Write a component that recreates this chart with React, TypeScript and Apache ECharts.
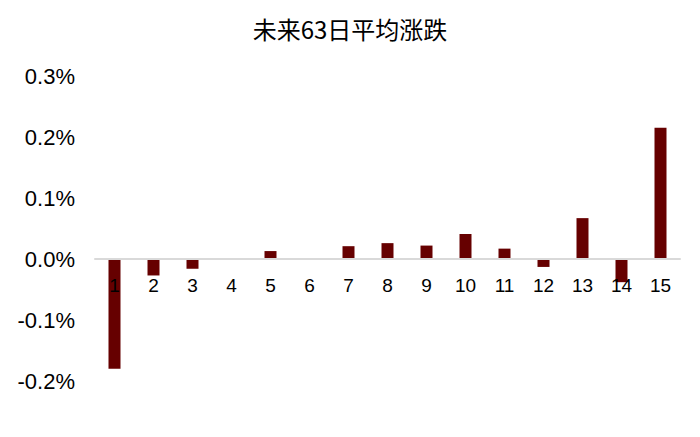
import { useEffect, useRef } from "react";
import * as echarts from "echarts";

const TITLE = "未来63日平均涨跌";
const categories = ["1", "2", "3", "4", "5", "6", "7", "8", "9", "10", "11", "12", "13", "14", "15"];
// average change, in percent
const avgChange = [
  -0.18, -0.027, -0.016, 0, 0.013, 0.001, 0.021, 0.026, 0.022, 0.041, 0.017, -0.013, 0.067, -0.038,
  0.215,
];

const FONT = "Liberation Sans, Arial, sans-serif";

// grid box inside the div (the div sits at 8,8 because of the body margin)
const GRID_TOP = 68;
const GRID_BOTTOM = 48;
const CHART_H = 421;
const Y_MIN = -0.2;
const Y_MAX = 0.3;

export default function App(): React.ReactElement {
  const containerRef = useRef<HTMLDivElement | null>(null);

  useEffect(() => {
    const target = containerRef.current;
    if (target === null) return;

    const chart = echarts.init(target, null, { renderer: "svg" });

    // lift the category axis from the grid bottom up to the zero line
    const gridH = CHART_H - GRID_TOP - GRID_BOTTOM;
    const zeroLift = (gridH * (0 - Y_MIN)) / (Y_MAX - Y_MIN);

    chart.setOption({
      animation: false,
      backgroundColor: "#ffffff",
      title: {
        text: TITLE,
        left: "center",
        top: 3,
        textStyle: {
          color: "#000000",
          fontFamily: "Noto Sans CJK SC, sans-serif",
          fontSize: 24,
          fontWeight: "normal",
        },
      },
      grid: { left: 87, right: 12, top: GRID_TOP, bottom: GRID_BOTTOM },
      xAxis: {
        type: "category",
        data: categories,
        offset: -zeroLift,
        axisLine: { onZero: false, lineStyle: { color: "#d9d9d9", width: 2 } },
        axisTick: { show: false },
        axisLabel: {
          color: "#000000",
          fontFamily: FONT,
          fontSize: 19,
          margin: 17,
          interval: 0,
        },
        z: 10,
      },
      yAxis: {
        type: "value",
        min: Y_MIN,
        max: Y_MAX,
        interval: 0.1,
        axisLine: { show: false },
        axisTick: { show: false },
        splitLine: { show: false },
        axisLabel: {
          color: "#000000",
          fontFamily: FONT,
          fontSize: 22,
          margin: 20,
          formatter: (v: number) => `${v.toFixed(1)}%`,
        },
      },
      series: [
        {
          type: "bar",
          data: avgChange,
          barWidth: 12,
          itemStyle: { color: "#660000" },
          z: 2,
        },
      ],
    });

    return () => {
      chart.dispose();
    };
  }, []);

  return <div ref={containerRef} style={{ width: 684, height: CHART_H }} />;
}
